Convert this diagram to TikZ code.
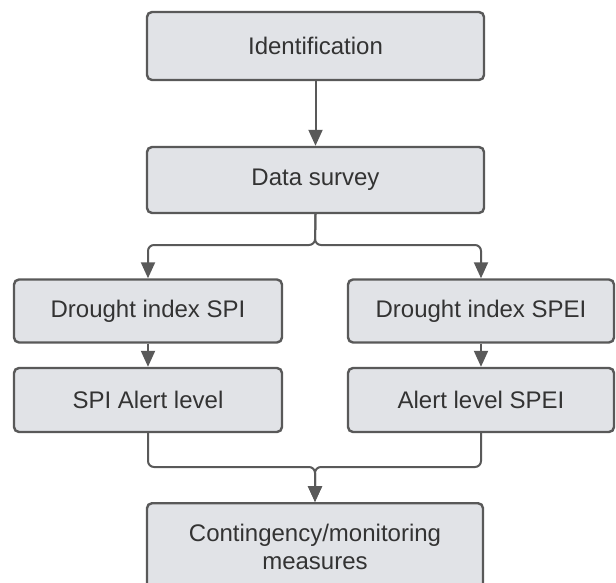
\documentclass[tikz,border=0pt]{standalone}
\usepackage{fontspec}
\setmainfont{Liberation Sans}
\usetikzlibrary{arrows.meta}
\definecolor{boxfill}{HTML}{E1E3E7}
\definecolor{boxline}{HTML}{595959}
\definecolor{txt}{HTML}{333333}
\begin{document}
\begin{tikzpicture}[x=1pt,y=-1pt,
  box/.style={draw=boxline, line width=2.4pt, fill=boxfill, rounded corners=5pt,
    text=txt, font=\fontsize{24}{28}\selectfont, align=center, inner sep=0pt},
  conn/.style={draw=boxline, line width=2pt, rounded corners=6pt,
    -{Triangle[length=16pt,width=14pt]}}]
\useasboundingbox (0,0) rectangle (616,583);
\node[box, minimum width=337pt, minimum height=68pt] (id) at (315.5,46) {Identification};
\node[box, minimum width=337pt, minimum height=66pt] (ds) at (315.5,180) {Data survey};
\node[box, minimum width=268pt, minimum height=63pt] (spi) at (148,311) {Drought index SPI};
\node[box, minimum width=266pt, minimum height=63pt] (spei) at (481,311) {Drought index SPEI};
\node[box, minimum width=268pt, minimum height=64pt] (spia) at (148,400) {SPI Alert level};
\node[box, minimum width=266pt, minimum height=64pt] (speia) at (481,400) {Alert level SPEI};
\node[box, minimum width=336pt, minimum height=88pt, anchor=north] (cm) at (315,502) {Contingency/monitoring\\measures};
\coordinate (j1) at (315,245);
\coordinate (j2) at (315,467);
\draw[conn] (id.south) -- (ds.north);
\draw[conn] (ds.south) -- (j1) -| (spi.north);
\draw[conn] (ds.south) -- (j1) -| (spei.north);
\draw[conn] (spi.south) -- (spia.north);
\draw[conn] (spei.south) -- (speia.north);
\draw[conn] (spia.south) |- (j2) -- (cm.north);
\draw[conn] (speia.south) |- (j2) -- (cm.north);
\end{tikzpicture}
\end{document}
